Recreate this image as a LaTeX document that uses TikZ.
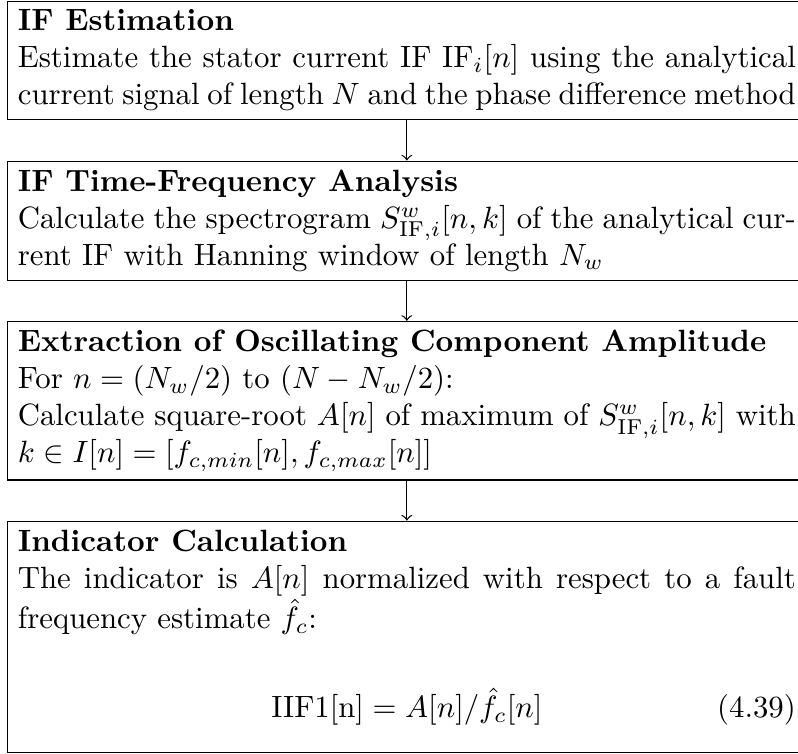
\documentclass[tikz,border=0pt]{standalone}
\usepackage{amsmath,amssymb}
\usepackage{tikz}
\usetikzlibrary{positioning}

\begin{document}
\begin{tikzpicture}[node distance=13pt, auto,
    block/.style={rectangle, draw, text width=252.6pt, align=justify, inner xsep=3.33pt, inner ysep=2.8pt, anchor=north west, execute at begin node={\setlength{\parindent}{0pt}}},
    line/.style={draw, ->}]
    \useasboundingbox (0,0) rectangle (259.1pt,-244.5pt);

    \node [block] (est) at (2.27pt,-0.2pt) {\textbf{IF Estimation}\\
      Estimate the stator current IF $\mathrm{IF}_i[n]$ using the analytical\linebreak
      current signal of length $N$ and the phase difference method};
    \node [block, below=of est] (tfa) {\textbf{IF Time-Frequency Analysis}\\
      Calculate the spectrogram $S^w_{\mathrm{IF},i}[n,k]$ of the analytical cur-\linebreak
      rent IF with Hanning window of length $N_w$};
    \node [block, below=of tfa] (amp) {\textbf{Extraction of Oscillating Component Amplitude}\\
      For $n=(N_w/2)$ to $(N-N_w/2)$:\\
      Calculate square-root $A[n]$ of maximum of $S^w_{\mathrm{IF},i}[n,k]$ with\linebreak
      $k\in I[n]=[f_{c,min}[n],f_{c,max}[n]]$};
    \node [block, below=of amp] (ind) {\textbf{Indicator Calculation}\\
      The indicator is $A[n]$ normalized with respect to a fault\linebreak
      frequency estimate $\hat{f}_c$:\\[17pt]
      \makebox[\linewidth]{$\mathrm{IIF1[n]}=A[n]/\hat{f}_c[n]$}\llap{(4.39)}\rule[-8.5pt]{0pt}{0pt}};

    \path [line] (est) -- (tfa);
    \path [line] (tfa) -- (amp);
    \path [line] (amp) -- (ind);
\end{tikzpicture}
\end{document}
